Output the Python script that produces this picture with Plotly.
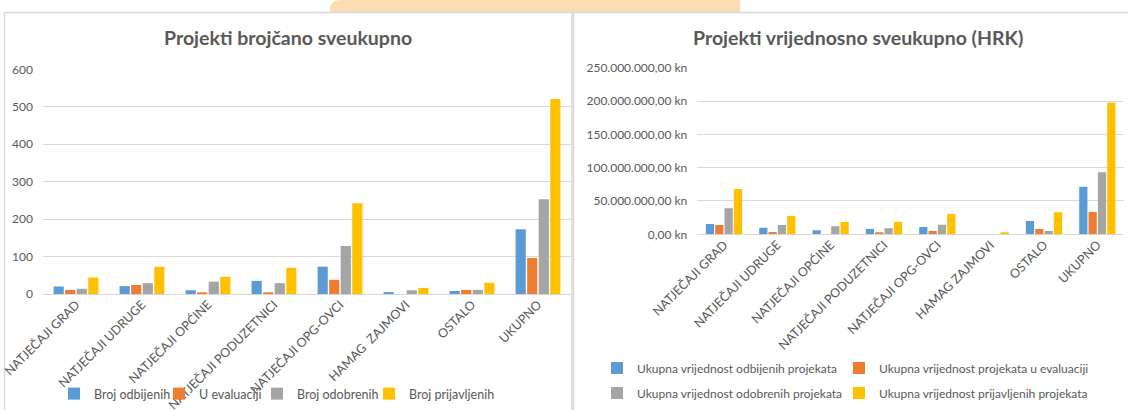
import plotly.graph_objects as go

# ---------------- data ----------------
categories_left = ["NATJEČAJI GRAD", "NATJEČAJI UDRUGE", "NATJEČAJI OPĆINE",
                   "NATJEČAJI PODUZETNICI", "NATJEČAJI OPG-OVCI", "HAMAG  ZAJMOVI",
                   "OSTALO", "UKUPNO"]
categories_right = ["NATJEČAJI GRAD", "NATJEČAJI UDRUGE", "NATJEČAJI OPĆINE",
                    "NATJEČAJI PODUZETNICI", "NATJEČAJI OPG-OVCI", "HAMAG ZAJMOVI",
                    "OSTALO", "UKUPNO"]

broj_odbijenih = [20, 21, 10, 35, 73, 5, 8, 173]
u_evaluaciji = [11, 24, 4, 4, 38, 0, 11, 96]
broj_odobrenih = [14, 29, 33, 29, 128, 10, 11, 253]
broj_prijavljenih = [44, 73, 46, 70, 242, 16, 30, 521]

vr_odbijenih = [15_500_000, 10_000_000, 6_000_000, 8_000_000, 11_000_000, 0, 20_000_000, 71_500_000]
vr_evaluacija = [14_000_000, 3_500_000, 0, 3_000_000, 5_000_000, 0, 8_000_000, 33_500_000]
vr_odobrenih = [39_000_000, 14_000_000, 12_000_000, 9_000_000, 14_500_000, 0, 5_000_000, 93_000_000]
vr_prijavljenih = [68_000_000, 27_500_000, 18_500_000, 19_000_000, 30_500_000, 3_000_000, 33_000_000, 197_500_000]

names_left = ["Broj odbijenih", "U evaluaciji", "Broj odobrenih", "Broj prijavljenih"]
names_right = ["Ukupna vrijednost odbijenih projekata",
               "Ukupna vrijednost projekata u evaluaciji",
               "Ukupna vrijednost odobrenih projekata",
               "Ukupna vrijednost prijavljenih projekata"]

title_left = "Projekti brojčano sveukupno"
title_right = "Projekti vrijednosno sveukupno (HRK)"

left_ticks = [0, 100, 200, 300, 400, 500, 600]
right_ticks = [0, 50_000_000, 100_000_000, 150_000_000, 200_000_000, 250_000_000]
right_tick_labels = ["0,00 kn", "50.000.000,00 kn", "100.000.000,00 kn",
                     "150.000.000,00 kn", "200.000.000,00 kn", "250.000.000,00 kn"]

colors = ["#5B9BD5", "#ED7D31", "#A5A5A5", "#FFC000"]

# ---------------- figure ----------------
W, H = 1128, 410
FONT = "Lato, 'Open Sans', sans-serif"
TXT = "#595959"
GRID = "#D9D9D9"


def px(x):
    return x / W


def py(y):
    return 1 - y / H


fig = go.Figure()

# legend placement: (text start x, centre y) for each entry, one legend per entry
left_legend_pos = [(95, 394), (200, 394), (298, 394), (410, 394)]
right_legend_pos = [(638, 368), (880, 368), (638, 393), (880, 393)]
TEXT_OFFSET = 41

legend_layout = {}
left_series = [broj_odbijenih, u_evaluaciji, broj_odobrenih, broj_prijavljenih]
for i, (name, vals, col) in enumerate(zip(names_left, left_series, colors)):
    key = "legend" if i == 0 else f"legend{i + 1}"
    fig.add_trace(go.Bar(x=categories_left, y=vals, name=name, marker_color=col,
                         marker_line_width=0, xaxis="x", yaxis="y", legend=key,
                         showlegend=True))
    tx, ty = left_legend_pos[i]
    legend_layout[key] = dict(orientation="h", x=px(tx - TEXT_OFFSET), xanchor="left",
                              y=py(ty), yanchor="middle",
                              font=dict(family=FONT, size=12.5, color=TXT),
                              bgcolor="rgba(0,0,0,0)")

right_series = [vr_odbijenih, vr_evaluacija, vr_odobrenih, vr_prijavljenih]
for i, (name, vals, col) in enumerate(zip(names_right, right_series, colors)):
    key = f"legend{i + 5}"
    fig.add_trace(go.Bar(x=categories_right, y=vals, name=name, marker_color=col,
                         marker_line_width=0, xaxis="x2", yaxis="y2", legend=key,
                         showlegend=True))
    tx, ty = right_legend_pos[i]
    legend_layout[key] = dict(orientation="h", x=px(tx - TEXT_OFFSET), xanchor="left",
                              y=py(ty), yanchor="middle",
                              font=dict(family=FONT, size=12, color=TXT),
                              bgcolor="rgba(0,0,0,0)")

ytick_font = dict(family=FONT, size=12, color=TXT)
xtick_font = dict(family=FONT, size=12.5, color=TXT)

fig.update_layout(
    width=W, height=H,
    margin=dict(l=0, r=0, t=0, b=0),
    paper_bgcolor="white", plot_bgcolor="rgba(0,0,0,0)",
    showlegend=True,
    barmode="group", bargap=0.30, bargroupgap=0.12,
    font=dict(family=FONT, size=12, color=TXT),
    xaxis=dict(domain=[px(43), px(571)], anchor="y", tickangle=-45,
               tickfont=xtick_font, showgrid=False, showline=False, ticks="",
               automargin=False),
    yaxis=dict(domain=[py(294), py(69.3)], anchor="x", range=[0, 600],
               tickvals=left_ticks, tickfont=ytick_font, showgrid=True,
               gridcolor=GRID, gridwidth=1, zeroline=True, zerolinecolor=GRID,
               zerolinewidth=1, showline=False, ticks="", ticklabelstandoff=9,
               automargin=False),
    xaxis2=dict(domain=[px(697.3), px(1124)], anchor="y2", tickangle=-45,
                tickfont=xtick_font, showgrid=False, showline=False, ticks="",
                automargin=False),
    yaxis2=dict(domain=[py(234.3), py(67.7)], anchor="x2", range=[0, 250_000_000],
                tickvals=right_ticks, ticktext=right_tick_labels,
                tickfont=ytick_font, showgrid=True, gridcolor=GRID, gridwidth=1,
                zeroline=True, zerolinecolor=GRID, zerolinewidth=1, showline=False,
                ticks="", ticklabelstandoff=9, automargin=False),
    annotations=[
        dict(text=f"<b>{title_left}</b>", x=px(288), y=py(38), xref="paper", yref="paper",
             xanchor="center", yanchor="middle", showarrow=False,
             font=dict(family=FONT, size=19.5, color=TXT)),
        dict(text=f"<b>{title_right}</b>", x=px(858), y=py(38), xref="paper", yref="paper",
             xanchor="center", yanchor="middle", showarrow=False,
             font=dict(family=FONT, size=19.5, color=TXT)),
    ],
    **legend_layout,
)

# decorative background: peach tab and the two chart panels
r = 10
tab_path = (f"M {px(330)},{py(14)} L {px(330)},{py(r)} "
            f"Q {px(330)},{py(0)} {px(330 + r)},{py(0)} "
            f"L {px(740)},{py(0)} L {px(740)},{py(14)} Z")
fig.add_shape(type="path", path=tab_path, xref="paper", yref="paper",
              fillcolor="#FDDCB1", line=dict(width=0), layer="below")
fig.add_shape(type="rect", xref="paper", yref="paper", x0=px(4.5), x1=px(572),
              y0=-0.05, y1=py(12.5), fillcolor="white",
              line=dict(color=GRID, width=1.5), layer="below")
fig.add_shape(type="rect", xref="paper", yref="paper", x0=px(573.5), x1=1.02,
              y0=-0.05, y1=py(12.5), fillcolor="white",
              line=dict(color=GRID, width=1.5), layer="below")

fig.write_html("out.html",
               config={"displayModeBar": False},
               post_script="document.body.style.margin='0';"
                           "document.body.style.overflow='hidden';")
